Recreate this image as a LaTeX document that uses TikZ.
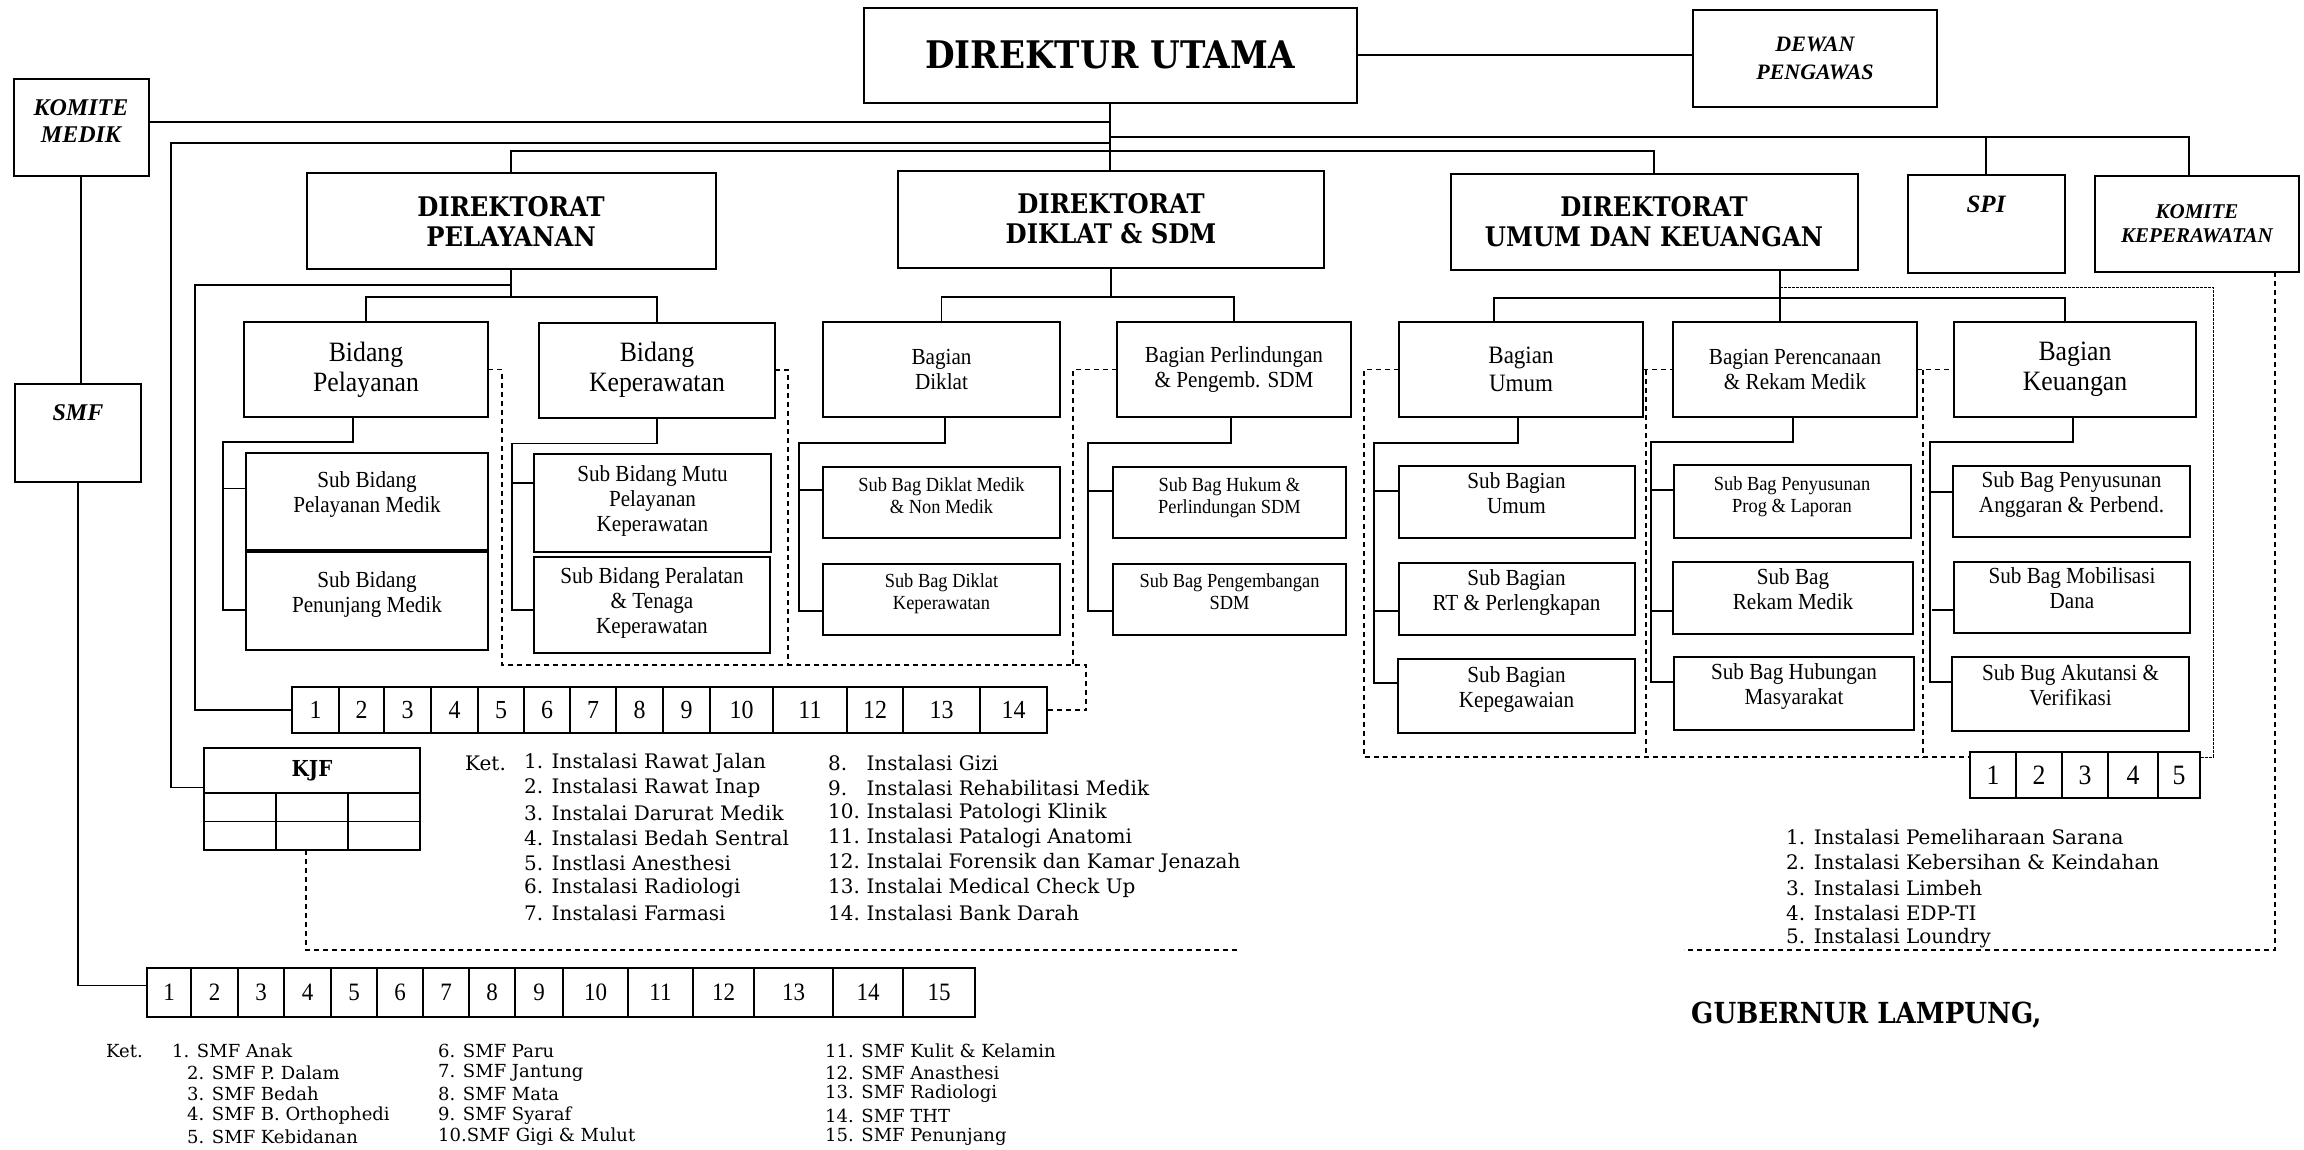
\documentclass[tikz,border=0pt]{standalone}
\usepackage{fontspec}
\setmainfont{Liberation Serif}
\newfontfamily\boxfont[FakeStretch=0.92]{Liberation Serif}
\newfontfamily\slab[FakeStretch=0.9]{DejaVu Serif}
\newfontfamily\slabtext{DejaVu Serif}
\usetikzlibrary{positioning}
\tikzstyle{box} = [rectangle, draw, line width=2pt, inner sep=0pt, outer sep=0pt, align=center]
\tikzstyle{headblock} = [box, font=\slab\bfseries\fontsize{27}{30}\selectfont]
\tikzstyle{italblock} = [box, font=\bfseries\itshape\fontsize{23}{27}\selectfont]
\tikzstyle{bigblock} = [box, minimum height=95pt, font=\boxfont\fontsize{28}{30}\selectfont]
\tikzstyle{midblock} = [box, minimum height=95pt, font=\boxfont\fontsize{23}{25}\selectfont]
\tikzstyle{subblock} = [box, text depth=18pt, font=\boxfont\fontsize{23}{25}\selectfont]
\tikzstyle{smallsub} = [box, minimum height=71pt, text depth=14pt, font=\boxfont\fontsize{20}{22}\selectfont]
\tikzstyle{cell} = [box, line width=1.6pt, font=\boxfont\fontsize{26}{26}\selectfont]
\tikzstyle{conn} = [line width=1.6pt]
\tikzstyle{dashline} = [line width=1.6pt, dash pattern=on 5pt off 4pt]
\tikzstyle{thinline} = [line width=1pt, dash pattern=on 3pt off 1pt]
\tikzstyle{legend} = [anchor=west, inner sep=0pt, font=\slabtext\fontsize{20}{20}\selectfont]
\tikzstyle{smflegend} = [anchor=west, inner sep=0pt, font=\slabtext\fontsize{18}{18}\selectfont]
\begin{document}
\begin{tikzpicture}[x=1pt, y=-1pt]
   \useasboundingbox (0,0) rectangle (2304,1149);

   % top level
   \node[headblock, minimum width=493pt, minimum height=95pt, font=\slab\bfseries\fontsize{38}{40}\selectfont] (du) at (1110,55) {DIREKTUR UTAMA};
   \node[italblock, minimum width=244pt, minimum height=97pt, font=\bfseries\itshape\fontsize{22}{28}\selectfont] (dewan) at (1815,58) {DEWAN\\PENGAWAS};
   \node[italblock, minimum width=135pt, minimum height=97pt, font=\bfseries\itshape\fontsize{24}{27}\selectfont, text depth=12pt] (km) at (81,127) {KOMITE\\MEDIK};
   \node[italblock, minimum width=126pt, minimum height=98pt, font=\bfseries\itshape\fontsize{24}{27}\selectfont, text depth=40pt] (smfbox) at (78,433) {SMF};
   \node[headblock, minimum width=409pt, minimum height=96pt] (dp) at (511,221) {DIREKTORAT\\PELAYANAN};
   \node[headblock, minimum width=426pt, minimum height=97pt] (dds) at (1111,219) {DIREKTORAT\\DIKLAT \& SDM};
   \node[headblock, minimum width=407pt, minimum height=96pt] (duk) at (1654,222) {DIREKTORAT\\UMUM DAN KEUANGAN};
   \node[italblock, minimum width=157pt, minimum height=98pt, font=\bfseries\itshape\fontsize{25}{27}\selectfont, text depth=40pt] (spi) at (1986,224) {SPI};
   \node[italblock, minimum width=204pt, minimum height=96pt, font=\bfseries\itshape\fontsize{21}{24}\selectfont] (kk) at (2197,224) {KOMITE\\KEPERAWATAN};

   % bidang / bagian
   \node[bigblock, minimum width=244pt] (bp) at (366,369.5) {Bidang\\Pelayanan};
   \node[bigblock, minimum width=236pt] (bk) at (657,370) {Bidang\\Keperawatan};
   \node[midblock, minimum width=237pt] (bd) at (941.5,369.5) {Bagian\\Diklat};
   \node[midblock, minimum width=234pt] (bperl) at (1234,369.5) {Bagian Perlindungan\\\& Pengemb. SDM};
   \node[midblock, minimum width=244pt, font=\boxfont\fontsize{25}{28}\selectfont] (bu) at (1521,369.5) {Bagian\\Umum};
   \node[midblock, minimum width=244pt] (bpr) at (1795,369.5) {Bagian Perencanaan\\\& Rekam Medik};
   \node[bigblock, minimum width=242pt] (bkeu) at (2075,369.5) {Bagian\\Keuangan};

   % sub bidang / sub bagian
   \node[subblock, minimum width=242pt, minimum height=97pt] (sbpm) at (367,501.5) {Sub Bidang\\Pelayanan Medik};
   \node[subblock, minimum width=242pt, minimum height=98pt] (sbpj) at (367,601) {Sub Bidang\\Penunjang Medik};
   \node[subblock, minimum width=237pt, minimum height=98pt, text depth=8pt] (sbmutu) at (652.5,503) {Sub Bidang Mutu\\Pelayanan\\Keperawatan};
   \node[subblock, minimum width=236pt, minimum height=96pt, text depth=8pt] (sbalat) at (652,605) {Sub Bidang Peralatan\\\& Tenaga\\Keperawatan};
   \node[smallsub, minimum width=237pt] (sbdm) at (941.5,502.5) {Sub Bag Diklat Medik\\\& Non Medik};
   \node[smallsub, minimum width=237pt] (sbdk) at (941.5,599) {Sub Bag Diklat\\Keperawatan};
   \node[smallsub, minimum width=233pt] (sbhk) at (1229.5,502.5) {Sub Bag Hukum \&\\Perlindungan SDM};
   \node[smallsub, minimum width=233pt] (sbpg) at (1229.5,599) {Sub Bag Pengembangan\\SDM};
   \node[subblock, minimum width=236pt, minimum height=72pt] (sbu) at (1516.5,502) {Sub Bagian\\Umum};
   \node[subblock, minimum width=236pt, minimum height=72pt] (sbrt) at (1516.5,599) {Sub Bagian\\RT \& Perlengkapan};
   \node[subblock, minimum width=237pt, minimum height=74pt] (sbkp) at (1516.5,696) {Sub Bagian\\Kepegawaian};
   \node[smallsub, minimum width=237pt, minimum height=73pt] (sbpp) at (1792,501.5) {Sub Bag Penyusunan\\Prog \& Laporan};
   \node[subblock, minimum width=240pt, minimum height=72pt] (sbrm) at (1793,598) {Sub Bag\\Rekam Medik};
   \node[subblock, minimum width=240pt, minimum height=73pt] (sbhm) at (1794,693.5) {Sub Bag Hubungan\\Masyarakat};
   \node[subblock, minimum width=237pt, minimum height=71pt] (sbag) at (2071.5,501.5) {Sub Bag Penyusunan\\Anggaran \& Perbend.};
   \node[subblock, minimum width=236pt, minimum height=71pt] (sbmd) at (2072,597.5) {Sub Bag Mobilisasi\\Dana};
   \node[subblock, minimum width=237pt, minimum height=74pt] (sbak) at (2070.5,694) {Sub Bug Akutansi \&\\Verifikasi};

   % instalasi, smf and kjf boxes
   \foreach \xa/\xb [count=\idx] in {292/339,339/384,384/431,431/478,478/524,524/570,570/616,616/663,663/710,710/773,773/847,847/903,903/980,980/1047}
      \node[cell, minimum width={(\xb-\xa)*1pt}, minimum height=46pt] (ins\idx) at ({(\xa+\xb)/2},710) {\idx};
   \foreach \xa/\xb [count=\idx] in {147/191,191/238,238/284,284/331,331/377,377/423,423/469,469/515,515/563,563/628,628/693,693/754,754/833,833/903,903/975}
      \node[cell, minimum width={(\xb-\xa)*1pt}, minimum height=49pt, font=\boxfont\fontsize{25}{25}\selectfont] (smfcell\idx) at ({(\xa+\xb)/2},992.5) {\idx};
   \foreach \xa/\xb [count=\idx] in {1970/2016,2016/2062,2062/2108,2108/2158,2158/2200}
      \node[cell, minimum width={(\xb-\xa)*1pt}, minimum height=46pt, font=\boxfont\fontsize{28}{28}\selectfont] (r\idx) at ({(\xa+\xb)/2},775) {\idx};
   \node[box, minimum width=216pt, minimum height=45pt, font=\slab\bfseries\fontsize{22}{22}\selectfont] (kjf) at (312,770.5) {KJF};
   \node[box, minimum width=216pt, minimum height=57pt, below=0pt of kjf] (kjfg) {};
   \draw[conn] (kjfg.west) -- (kjfg.east);
   \draw[conn] ([xshift=72pt]kjfg.north west) -- ([xshift=72pt]kjfg.south west);
   \draw[conn] ([xshift=144pt]kjfg.north west) -- ([xshift=144pt]kjfg.south west);

   % top edges
   \coordinate (t1) at (1110,122);
   \coordinate (t2) at (1110,143);
   \coordinate (t3) at (1110,151);
   \coordinate (t4) at (1110,137);
   \coordinate (kjfv) at (171,143);
   \draw[conn] (du.east) -- (du.east -| dewan.west);
   \draw[conn] (du.south) -- (du.south |- dds.north);
   \draw[conn] (km.east |- t1) -- (t1);
   \draw[conn] (km.south) -- (km.south |- smfbox.north);
   \draw[conn] (smfbox.south) |- ([yshift=7pt]smfcell1.west);
   \draw[conn] (t2) -- (kjfv) |- ([yshift=-17pt]kjf.west);
   \draw[conn] (dp.north) |- (t3) -| (duk.north);
   \draw[conn] (t4) -| ([xshift=-8pt]kk.north);
   \draw[conn] (spi.north) -- (spi.north |- t4);

   % direktorat pelayanan
   \coordinate (insv) at (195,285);
   \draw[conn] (dp.south) -- ++(0,28);
   \draw[conn] (bp.north) -- ++(0,-25) -| (bk.north);
   \draw[conn] (dp.south |- insv) -- (insv) |- (ins1.west);
   \draw[conn] ([xshift=-13pt]bp.south) -- ++(0,25) -| ([xshift=-23pt,yshift=-9pt]sbpj.west) -- ([yshift=-9pt]sbpj.west);
   \draw[conn] ([xshift=-23pt,yshift=13pt]sbpm.west) -- ([yshift=13pt]sbpm.west);
   \draw[conn] (bk.south) -- ++(0,26) -| ([xshift=-22pt,yshift=-5pt]sbalat.west) -- ([yshift=-5pt]sbalat.west);
   \draw[conn] ([xshift=-22pt,yshift=20pt]sbmutu.west) -- ([yshift=20pt]sbmutu.west);

   % direktorat diklat
   \draw[conn] (dds.south) -- ++(0,29);
   \draw[conn] (bd.north) -- ++(0,-25) -| (bperl.north);
   \draw[conn] ([xshift=3.5pt]bd.south) -- ++(0,26) -| ([xshift=-24pt,yshift=-12pt]sbdk.west) -- ([yshift=-12pt]sbdk.west);
   \draw[conn] ([xshift=-24pt,yshift=12.5pt]sbdm.west) -- ([yshift=12.5pt]sbdm.west);
   \draw[conn] ([xshift=-3pt]bperl.south) -- ++(0,26) -| ([xshift=-25pt,yshift=-12pt]sbpg.west) -- ([yshift=-12pt]sbpg.west);
   \draw[conn] ([xshift=-25pt,yshift=11.5pt]sbhk.west) -- ([yshift=11.5pt]sbhk.west);

   % direktorat umum
   \coordinate (dukr) at (2213,287);
   \draw[conn] ([xshift=126pt]duk.south) -- ([xshift=126pt]duk.south |- bpr.north);
   \draw[conn] ([xshift=-27pt]bu.north) -- ++(0,-24) -| ([xshift=-10pt]bkeu.north);
   \draw[thinline] ([xshift=126pt]duk.south |- dukr) -- (dukr) |- ([yshift=18pt]r5.east);
   \draw[conn] ([xshift=-3pt]bu.south) -- ++(0,26) -| ([xshift=-24pt,yshift=13pt]sbkp.west) -- ([yshift=13pt]sbkp.west);
   \draw[conn] ([xshift=-24pt,yshift=11pt]sbu.west) -- ([yshift=11pt]sbu.west);
   \draw[conn] ([xshift=-24pt,yshift=-12pt]sbrt.west) -- ([yshift=-12pt]sbrt.west);
   \draw[conn] ([xshift=-2pt]bpr.south) -- ++(0,25) -| ([xshift=-23pt,yshift=11.5pt]sbhm.west) -- ([yshift=11.5pt]sbhm.west);
   \draw[conn] ([xshift=-23pt,yshift=11.5pt]sbpp.west) -- ([yshift=11.5pt]sbpp.west);
   \draw[conn] ([xshift=-23pt,yshift=-13pt]sbrm.west) -- ([yshift=-13pt]sbrm.west);
   \draw[conn] ([xshift=-2pt]bkeu.south) -- ++(0,25) -| ([xshift=-22pt,yshift=12pt]sbak.west) -- ([yshift=12pt]sbak.west);
   \draw[conn] ([xshift=-22pt,yshift=9.5pt]sbag.west) -- ([yshift=9.5pt]sbag.west);
   \draw[conn] ([xshift=-22pt,yshift=-12.5pt]sbmd.west) -- ([yshift=-12.5pt]sbmd.west);

   % dashed lines
   \coordinate (dl) at (1086,665);
   \coordinate (dr) at (1970,757);
   \coordinate (dk) at (1238,950);
   \coordinate (dk2) at (1684,950);
   \draw[dashline] (bp.east) -- ++(14,0) |- (dl) |- (ins14.east);
   \draw[dashline] (bk.east) -- ++(13,0) coordinate (bke) -- (bke |- dl);
   \draw[dashline] (bperl.west) -- ++(-44,0) coordinate (bpw) -- (bpw |- dl);
   \draw[dashline] (bu.west) -- ++(-35,0) |- (dr);
   \draw[dashline] (bu.east) -- (bpr.west);
   \draw[dashline] ([xshift=3pt]bu.east) -- ([xshift=3pt]bu.east |- dr);
   \draw[dashline] (bpr.east) -- (bkeu.west);
   \draw[dashline] ([xshift=6pt]bpr.east) -- ([xshift=6pt]bpr.east |- dr);
   \draw[dashline] ([xshift=-6pt]kjfg.south) |- (dk);
   \draw[dashline] ([xshift=78pt]kk.south) |- (dk2);

   % keterangan
   \node[legend] (ket1) at (465,763) {Ket.};
   \foreach \txt [count=\idx] in {Instalasi Rawat Jalan,Instalasi Rawat Inap,Instalai Darurat Medik,Instalasi Bedah Sentral,Instlasi Anesthesi,Instalasi Radiologi,Instalasi Farmasi}
      \node[legend] (insa\idx) at (524,{763+25*(\idx-1)}) {\idx. \txt};
   \foreach \txt [count=\idx from 8] in {Instalasi Gizi,Instalasi Rehabilitasi Medik,Instalasi Patologi Klinik,Instalasi Patalogi Anatomi,Instalai Forensik dan Kamar Jenazah,Instalai Medical Check Up,Instalasi Bank Darah}
      \node[legend] (insb\idx) at (828,{763+25*(\idx-8)}) {\makebox[1.92em][l]{\idx.}\txt};
   \foreach \txt [count=\idx] in {Instalasi Pemeliharaan Sarana,Instalasi Kebersihan \& Keindahan,Instalasi Limbeh,Instalasi EDP-TI,Instalasi Loundry}
      \node[legend] (rl\idx) at (1786,{837+25.3*(\idx-1)}) {\idx. \txt};
   \node[smflegend] (ket2) at (106,1051) {Ket.};
   \node[smflegend] (smfa1) at (172,1051) {1. SMF Anak};
   \foreach \txt [count=\idx from 2] in {SMF P. Dalam,SMF Bedah,SMF B. Orthophedi,SMF Kebidanan}
      \node[smflegend] (smfa\idx) at (187,{1051+21.5*(\idx-1)}) {\idx. \txt};
   \foreach \txt [count=\idx from 6] in {6. SMF Paru,7. SMF Jantung,8. SMF Mata,9. SMF Syaraf,10.SMF Gigi \& Mulut}
      \node[smflegend] (smfb\idx) at (438,{1051+21.5*(\idx-6)}) {\txt};
   \foreach \txt [count=\idx from 11] in {11. SMF Kulit \& Kelamin,12. SMF Anasthesi,13. SMF Radiologi,14. SMF THT,15. SMF Penunjang}
      \node[smflegend] (smfc\idx) at (825,{1051+21.5*(\idx-11)}) {\txt};
   \node[legend, font=\slab\bfseries\fontsize{29}{29}\selectfont] (gub) at (1691,1015) {GUBERNUR LAMPUNG,};
\end{tikzpicture}
\end{document}
